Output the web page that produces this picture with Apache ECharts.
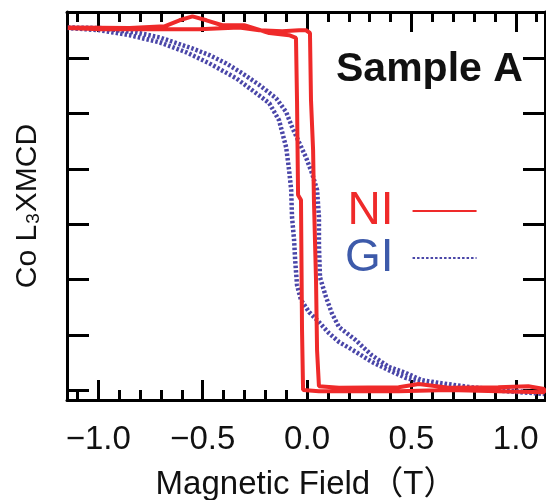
<!DOCTYPE html>
<html>
<head>
<meta charset="utf-8">
<script src="https://cdn.jsdelivr.net/npm/echarts@6/dist/echarts.min.js"></script>
<style>
html,body{margin:0;padding:0;background:#fff;}
#chart{width:546px;height:500px;}
</style>
</head>
<body>
<div id="chart"></div>
<script>
// ---- data (field in T, Co L3 XMCD in arbitrary units) ----
const X_MIN = -1.15, X_MAX = 1.14;
const Y_MIN = -0.18, Y_MAX = 6.84;
const X_TICK_VALUES = [-1.0, -0.5, 0.0, 0.5, 1.0];
const X_TICK_LABELS = ['\u22121.0', '\u22120.5', '0.0', '0.5', '1.0'];
const X_MINOR_TICKS = [-1.1, -1.0, -0.9, -0.8, -0.7, -0.6, -0.5, -0.4, -0.3, -0.2, -0.1, 0.0, 0.1, 0.2, 0.3, 0.4, 0.5, 0.6, 0.7, 0.8, 0.9, 1.0, 1.1];
const Y_TICKS = [0, 1, 2, 3, 4, 5, 6];

const NI_UP_H = [-1.146, -0.993, -0.754, -0.516, -0.325, -0.229, -0.119, -0.038, -0.005, 0.014, 0.019, 0.029, 0.033, 0.043, 0.048, 0.057, 0.153, 0.439, 0.535, 0.678, 0.916, 1.06, 1.136];
const NI_UP_M = [6.55, 6.53, 6.53, 6.53, 6.56, 6.51, 6.49, 6.51, 6.51, 6.46, 5.24, 4.34, 3.44, 1.99, 0.72, 0.07, 0.04, 0.05, 0.11, 0.04, 0.05, 0.07, 0.02];
const NI_DOWN_H = [1.136, 0.916, 0.678, 0.439, 0.2, 0.057, -0.019, -0.024, -0.029, -0.043, -0.048, -0.053, -0.086, -0.181, -0.301, -0.406, -0.482, -0.549, -0.611, -0.683, -0.85, -1.146];
const NI_DOWN_M = [-0.04, -0.02, 0.0, -0.02, -0.02, -0.02, 0.0, 1.08, 3.44, 3.53, 5.24, 6.37, 6.42, 6.46, 6.6, 6.6, 6.69, 6.76, 6.69, 6.58, 6.55, 6.56];

const GI_UP_H = [-1.146, -0.993, -0.816, -0.706, -0.549, -0.468, -0.387, -0.310, -0.229, -0.148, -0.100, -0.072, -0.038, -0.005, 0.024, 0.048, 0.057, 0.057, 0.062, 0.091, 0.119, 0.153, 0.234, 0.310, 0.391, 0.473, 0.549, 0.630, 0.788, 0.950, 1.136];
const GI_UP_M = [6.56, 6.55, 6.47, 6.38, 6.18, 6.06, 5.91, 5.73, 5.52, 5.28, 5.03, 4.76, 4.48, 4.21, 3.92, 3.62, 3.13, 2.62, 2.04, 1.68, 1.39, 1.14, 0.90, 0.63, 0.42, 0.31, 0.18, 0.13, 0.05, 0.0, -0.07];
const GI_DOWN_H = [1.136, 0.95, 0.788, 0.630, 0.549, 0.473, 0.391, 0.310, 0.234, 0.153, 0.105, 0.057, 0.010, -0.029, -0.048, -0.057, -0.062, -0.072, -0.076, -0.086, -0.100, -0.134, -0.181, -0.229, -0.339, -0.468, -0.578, -0.706, -0.850, -0.993, -1.146];
const GI_DOWN_M = [-0.09, -0.02, 0.02, 0.09, 0.14, 0.22, 0.36, 0.51, 0.69, 0.87, 1.03, 1.23, 1.41, 1.63, 1.90, 2.35, 2.71, 3.13, 3.62, 3.98, 4.39, 4.88, 5.19, 5.33, 5.64, 5.91, 6.11, 6.29, 6.42, 6.51, 6.55];

const SERIES_NAMES = ['NI', 'GI'];

// ---- build ----
const RED = '#ef2a2a';
const BLUE = '#4a46a8';
const BLUE_TEXT = '#3d5aaa';
const FONT = '"Liberation Sans", Arial, "Noto Sans CJK JP", sans-serif';

function pairs(hs, ms) { return hs.map((h, i) => [h, ms[i]]); }
const niData = pairs(NI_UP_H, NI_UP_M).concat(pairs(NI_DOWN_H, NI_DOWN_M));
const giData = pairs(GI_UP_H, GI_UP_M).concat(pairs(GI_DOWN_H, GI_DOWN_M));

function xLabel(v) {
  for (let i = 0; i < X_TICK_VALUES.length; i++) {
    if (Math.abs(v - X_TICK_VALUES[i]) < 1e-6) return X_TICK_LABELS[i];
  }
  return '';
}

const axisLineStyle = { color: '#000', width: 3 };
function xAx(pos, ticks, tickLen, withLine, withLabel) {
  const ax = {
    type: 'value', position: pos, min: X_MIN, max: X_MAX,
    gridIndex: 0,
    axisLine: { show: withLine, onZero: false, lineStyle: axisLineStyle },
    axisTick: { show: true, inside: true, length: tickLen, customValues: ticks,
                lineStyle: { color: '#000', width: 3 } },
    splitLine: { show: false },
    axisLabel: { show: false }
  };
  if (withLabel) {
    ax.axisLabel = {
      show: true, customValues: X_TICK_VALUES, formatter: xLabel, margin: 23, color: '#111',
      fontSize: 33, fontFamily: FONT, hideOverlap: false
    };
    ax.name = 'Magnetic Field\uFF08T\uFF09';
    ax.nameLocation = 'middle';
    ax.nameGap = 68;
    ax.nameMoveOverlap = false;
    ax.nameTextStyle = { fontSize: 33, color: '#111', fontFamily: FONT };
  }
  return ax;
}
function yAx(pos, withName) {
  const ax = {
    type: 'value', position: pos, min: Y_MIN, max: Y_MAX,
    gridIndex: 0,
    axisLine: { show: true, onZero: false, lineStyle: axisLineStyle },
    axisTick: { show: true, inside: true, length: 22, customValues: Y_TICKS,
                lineStyle: { color: '#000', width: 3 } },
    splitLine: { show: false },
    axisLabel: { show: false }
  };
  if (withName) {
    ax.name = '{a|Co L}{s|3}{a|XMCD}';
    ax.nameLocation = 'middle';
    ax.nameRotate = 90;
    ax.nameGap = 24;
    ax.nameMoveOverlap = false;
    ax.nameTextStyle = {
      color: '#111', fontFamily: FONT, fontSize: 30,
      rich: {
        a: { fontSize: 30, fontFamily: FONT, color: '#111' },
        s: { fontSize: 19, fontFamily: FONT, color: '#111', verticalAlign: 'bottom', padding: [0, 1, 0, 1] }
      }
    };
  }
  return ax;
}

const chart = echarts.init(document.getElementById('chart'), null, { renderer: 'canvas' });
chart.setOption({
  animation: false,
  backgroundColor: '#fff',
  title: {
    text: 'Sample A', left: 331, top: 44,
    textStyle: { fontSize: 41, fontWeight: 'bold', color: '#111', fontFamily: FONT }
  },
  legend: {
    orient: 'vertical', left: 340, top: 183, align: 'right',
    itemWidth: 64, itemHeight: 20, itemGap: 1,
    selectedMode: false,
    itemStyle: { opacity: 0 },
    textStyle: { fontSize: 46, fontFamily: '"Liberation Sans Narrow", ' + FONT, padding: [0, 14, 0, 0] },
    data: [
      { name: SERIES_NAMES[0], textStyle: { color: RED } },
      { name: SERIES_NAMES[1], textStyle: { color: BLUE_TEXT } }
    ]
  },
  grid: { left: 67, right: 1, top: 12, bottom: 100, containLabel: false, outerBoundsMode: 'none' },
  xAxis: [
    xAx('bottom', X_MINOR_TICKS, 10, true, false),
    xAx('bottom', X_TICK_VALUES, 20, false, true),
    xAx('top', X_MINOR_TICKS, 10, true, false),
    xAx('top', X_TICK_VALUES, 20, false, false)
  ],
  yAxis: [yAx('left', true), yAx('right', false)],
  series: [
    {
      name: SERIES_NAMES[1], type: 'line', xAxisIndex: 0, yAxisIndex: 0,
      data: giData, symbol: 'none', smooth: false,
      lineStyle: { color: BLUE, width: 4.5, type: [2.5, 2] },
      itemStyle: { color: BLUE }
    },
    {
      name: SERIES_NAMES[0], type: 'line', xAxisIndex: 0, yAxisIndex: 0,
      data: niData, symbol: 'none', smooth: false,
      lineStyle: { color: RED, width: 4 },
      itemStyle: { color: RED }
    }
  ]
});
</script>
</body>
</html>
